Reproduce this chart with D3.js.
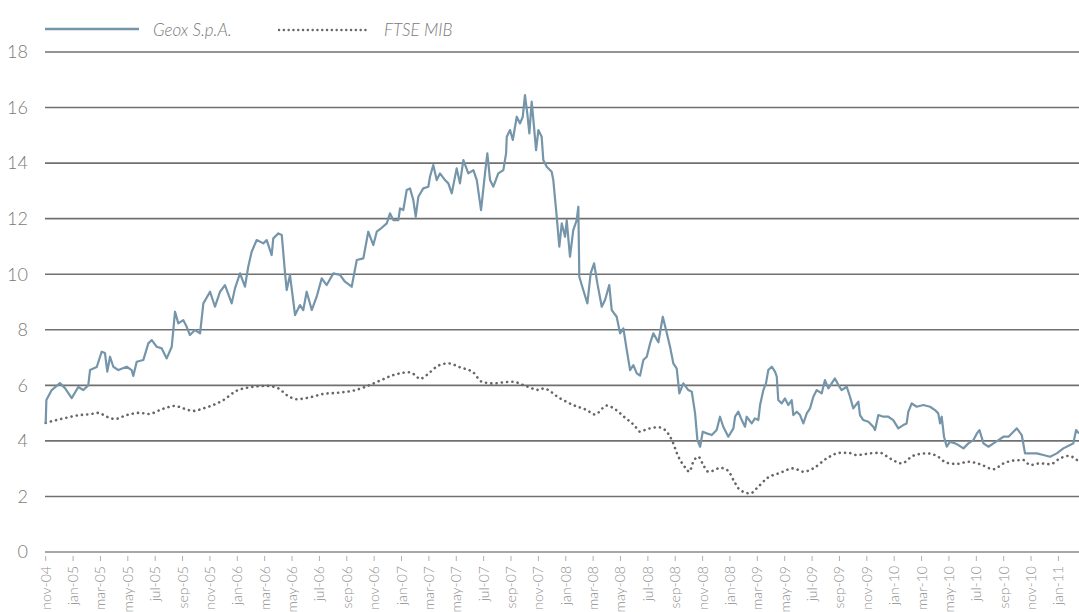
<!DOCTYPE html>
<meta charset="utf-8">
<html>
<head>
  <style>
    body { margin: 0; background: #fff; }
    svg { display: block; font-family: Lato, "Open Sans", sans-serif; }
    .ylab { font-size: 18px; fill: #7a7a7a; font-weight: 300; }
    .xlab { font-size: 14px; fill: #8c8c8c; font-weight: 300; }
    .leg { font-size: 17px; fill: #7a7a7a; font-style: italic; font-weight: 300; }
  </style>
</head>
<body>
<svg width="1079" height="612"></svg>
<script src="https://d3js.org/d3.v7.min.js"></script>
<script>
  // months counted from nov-04 (0) ; tick labels every two months as printed
  const tickMonths = d3.range(0, 77, 2);
  const tickLabels = ["nov-04","jan-05","mar-05","may-05","jul-05","sep-05","nov-05","jan-06","mar-06","may-06",
    "jul-06","sep-06","nov-06","jan-07","mar-07","may-07","jul-07","sep-07","nov-07","jan-08","mar-08","may-08",
    "jul-08","sep-08","nov-08","jan-08","mar-09","may-09","jul-09","sep-09","nov-09","jan-10","mar-10","may-10",
    "jul-10","sep-10","nov-10","jan-11","mar-11"];
  const yTicks = [0, 2, 4, 6, 8, 10, 12, 14, 16, 18];

  const geoxMonths = [0,0.05,0.44,1.04,1.41,1.90,2.38,2.75,3.11,3.24,3.73,4.09,4.33,4.50,4.70,4.94,5.31,5.92,6.28,6.40,
    6.65,7.13,7.50,7.75,8.11,8.48,8.84,9.21,9.45,9.69,10.05,10.30,10.54,10.91,11.28,11.52,12.01,12.37,12.74,13.10,
    13.59,13.83,14.20,14.56,14.80,15.05,15.42,15.90,16.15,16.51,16.63,17.00,17.25,17.49,17.61,17.85,18.22,18.58,18.82,19.07,
    19.44,19.80,20.17,20.53,21.02,21.51,21.87,22.36,22.73,23.21,23.57,23.94,24.19,24.43,24.92,25.16,25.40,25.77,25.89,26.13,
    26.38,26.62,26.86,27.04,27.23,27.59,27.96,28.08,28.32,28.57,28.81,29.18,29.42,29.67,30.03,30.27,30.52,30.88,31.25,31.50,
    31.81,32.10,32.27,32.47,32.71,33.07,33.44,33.64,33.69,33.93,34.13,34.42,34.66,34.86,35.02,35.19,35.34,35.51,35.68,35.83,
    36.00,36.24,36.36,36.61,36.97,37.09,37.34,37.53,37.71,37.95,38.07,38.31,38.55,38.80,38.92,38.99,39.28,39.58,39.82,40.07,
    40.31,40.63,40.87,41.18,41.36,41.72,41.97,42.21,42.46,42.70,42.94,43.19,43.43,43.67,43.92,44.16,44.40,44.77,45.09,45.33,
    45.62,45.86,46.11,46.30,46.59,46.96,47.21,47.45,47.62,47.82,48.01,48.30,48.67,49.03,49.27,49.51,49.88,50.25,50.37,50.61,
    50.86,51.10,51.22,51.59,51.83,52.07,52.20,52.44,52.63,52.80,53.05,53.29,53.42,53.53,53.78,54.02,54.26,54.51,54.63,54.88,
    55.12,55.36,55.61,55.85,56.09,56.34,56.70,56.94,57.19,57.43,57.67,57.92,58.16,58.53,58.77,59.01,59.38,59.50,59.74,60.11,
    60.47,60.60,60.84,61.20,61.57,61.93,62.30,62.66,62.91,63.03,63.28,63.64,64.13,64.62,64.98,65.22,65.35,65.47,65.64,65.84,
    66.08,66.45,66.69,67.06,67.42,67.79,68.04,68.23,68.52,68.89,69.25,69.62,69.98,70.35,70.71,70.96,71.32,71.56,71.93,72.42,
    72.90,73.39,73.88,74.36,74.85,75.09,75.29,75.51];
  const geoxValues = [4.63,5.47,5.83,6.08,5.90,5.54,5.94,5.83,6.00,6.55,6.66,7.21,7.16,6.49,7.03,6.67,6.55,6.67,6.55,6.34,
    6.85,6.91,7.51,7.63,7.39,7.33,6.97,7.39,8.65,8.23,8.35,8.11,7.81,7.99,7.87,8.95,9.37,8.83,9.37,9.61,
    8.95,9.49,10.03,9.55,10.27,10.81,11.23,11.11,11.23,10.69,11.29,11.47,11.41,10.03,9.43,9.97,8.53,8.89,8.71,9.37,
    8.71,9.19,9.85,9.61,10.03,9.97,9.73,9.55,10.51,10.57,11.53,11.05,11.53,11.62,11.83,12.19,11.95,11.95,12.37,12.31,
    13.03,13.09,12.67,12.07,12.79,13.09,13.15,13.51,13.93,13.39,13.63,13.39,13.27,12.91,13.81,13.27,14.11,13.63,13.75,13.39,
    12.31,13.63,14.35,13.39,13.15,13.63,13.75,14.35,14.95,15.19,14.83,15.67,15.43,15.67,16.45,15.79,15.07,16.21,15.31,14.47,
    15.19,14.95,14.11,13.87,13.69,13.39,12.07,10.99,11.83,11.35,11.95,10.63,11.59,11.95,12.43,9.91,9.43,8.95,10.03,10.39,
    9.67,8.83,9.07,9.61,8.71,8.47,7.87,8.05,7.27,6.55,6.73,6.43,6.35,6.91,7.03,7.51,7.87,7.55,8.47,7.99,
    7.39,6.79,6.60,5.71,6.07,5.83,5.77,4.99,4.03,3.79,4.33,4.27,4.21,4.39,4.87,4.51,4.15,4.45,4.87,5.05,
    4.75,4.51,4.87,4.63,4.81,4.75,5.29,5.83,6.07,6.55,6.67,6.49,6.31,5.47,5.35,5.53,5.29,5.47,4.93,5.05,
    4.93,4.63,4.99,5.17,5.59,5.83,5.71,6.19,5.89,6.07,6.25,6.01,5.83,5.95,5.59,5.17,5.41,4.93,4.75,4.69,
    4.51,4.39,4.93,4.87,4.87,4.75,4.45,4.57,4.63,5.05,5.35,5.23,5.29,5.23,5.11,4.99,4.63,4.87,4.15,3.79,
    3.97,3.91,3.85,3.73,3.91,4.03,4.27,4.39,3.91,3.79,3.91,4.03,4.15,4.15,4.33,4.45,4.21,3.55,3.55,3.55,
    3.49,3.43,3.55,3.73,3.85,3.91,4.39,4.27];

  const ftseMonths = [0,1.29,2.51,3.24,3.84,4.46,5.06,5.92,6.89,7.50,8.59,9.45,10.05,10.79,11.52,12.98,13.96,14.93,16.15,17.00,
    17.61,18.34,19.31,20.28,21.51,22.48,23.21,24.43,25.40,26.62,26.99,27.35,27.84,28.69,29.42,30.27,31.25,31.86,32.71,33.69,
    34.17,34.90,36.12,36.36,37.58,38.55,39.53,40.14,40.99,41.57,42.30,43.03,43.43,43.92,44.77,45.26,45.75,46.23,46.72,47.03,
    47.32,47.69,48.05,48.42,48.79,49.27,49.88,50.25,50.74,51.47,52.07,52.69,53.66,54.63,55.36,56.09,57.07,58.04,58.65,59.26,
    60.23,60.96,61.69,62.55,63.40,64.38,65.11,65.84,66.57,67.42,68.28,69.25,69.98,70.71,71.44,71.93,72.66,73.39,74.12,74.73,
    75.51];
  const ftseValues = [4.65,4.81,4.93,4.96,5.01,4.87,4.79,4.93,5.01,4.97,5.16,5.26,5.17,5.08,5.17,5.47,5.81,5.93,5.98,5.89,
    5.65,5.50,5.57,5.69,5.74,5.81,5.92,6.17,6.37,6.47,6.37,6.23,6.37,6.71,6.79,6.65,6.46,6.13,6.07,6.12,
    6.13,6.01,5.83,5.89,5.53,5.29,5.11,4.95,5.27,5.15,4.85,4.55,4.33,4.42,4.49,4.39,4.03,3.43,3.05,2.89,
    3.25,3.43,3.13,2.89,2.93,3.03,2.92,2.59,2.23,2.11,2.35,2.65,2.85,3.01,2.89,3.01,3.37,3.57,3.57,3.49,
    3.55,3.57,3.37,3.19,3.47,3.55,3.46,3.21,3.17,3.25,3.16,2.98,3.19,3.29,3.31,3.13,3.19,3.16,3.37,3.46,
    3.25];

  const svg = d3.select("svg");
  const x = d3.scaleLinear().domain([0, 76]).range([45.7, 1085.8]);
  const y = d3.scaleLinear().domain([0, 18]).range([552, 52]);

  // gridlines
  svg.append("g").selectAll("line")
    .data(yTicks.filter(d => d > 0))
    .enter().append("line")
    .attr("x1", 45).attr("x2", 1079)
    .attr("y1", d => y(d)).attr("y2", d => y(d))
    .attr("stroke", "#707070").attr("stroke-width", 1.6);

  svg.append("line")
    .attr("x1", 45).attr("x2", 1079)
    .attr("y1", y(0)).attr("y2", y(0))
    .attr("stroke", "#a8a8a8").attr("stroke-width", 2.2);

  svg.append("g").selectAll("text")
    .data(yTicks)
    .enter().append("text")
    .attr("class", "ylab")
    .attr("x", 28).attr("y", d => y(d))
    .attr("dy", "0.35em")
    .attr("text-anchor", "end")
    .text(d => d);

  // x ticks + rotated labels
  const xt = svg.append("g").selectAll("g")
    .data(tickMonths)
    .enter().append("g")
    .attr("transform", d => `translate(${x(d)},0)`);
  xt.append("line")
    .attr("y1", 556).attr("y2", 561)
    .attr("stroke", "#b0b0b0").attr("stroke-width", 1);
  xt.append("text")
    .attr("class", "xlab")
    .attr("transform", "translate(5,566) rotate(-90)")
    .attr("text-anchor", "end")
    .text((d, i) => tickLabels[i]);

  const line = d3.line().x(d => x(d[0])).y(d => y(d[1]));

  svg.append("path")
    .datum(ftseMonths.map((m, i) => [m, ftseValues[i]]))
    .attr("d", line.curve(d3.curveMonotoneX))
    .attr("fill", "none")
    .attr("stroke", "#666")
    .attr("stroke-width", 2.6)
    .attr("stroke-linecap", "round")
    .attr("stroke-dasharray", "0.1 5.2");

  svg.append("path")
    .datum(geoxMonths.map((m, i) => [m, geoxValues[i]]))
    .attr("d", d3.line().x(d => x(d[0])).y(d => y(d[1])))
    .attr("fill", "none")
    .attr("stroke", "#7595aa")
    .attr("stroke-width", 2.2)
    .attr("stroke-linejoin", "round");

  // legend
  const leg = svg.append("g");
  leg.append("line").attr("x1", 45).attr("x2", 139).attr("y1", 29).attr("y2", 29)
    .attr("stroke", "#7595aa").attr("stroke-width", 2.5);
  leg.append("text").attr("class", "leg").attr("x", 153).attr("y", 36).text("Geox S.p.A.");
  leg.append("line").attr("x1", 279).attr("x2", 368).attr("y1", 30).attr("y2", 30)
    .attr("stroke", "#666").attr("stroke-width", 2.4)
    .attr("stroke-linecap", "round").attr("stroke-dasharray", "0.1 4.7");
  leg.append("text").attr("class", "leg").attr("x", 384).attr("y", 36).text("FTSE MIB");
</script>
</body>
</html>
